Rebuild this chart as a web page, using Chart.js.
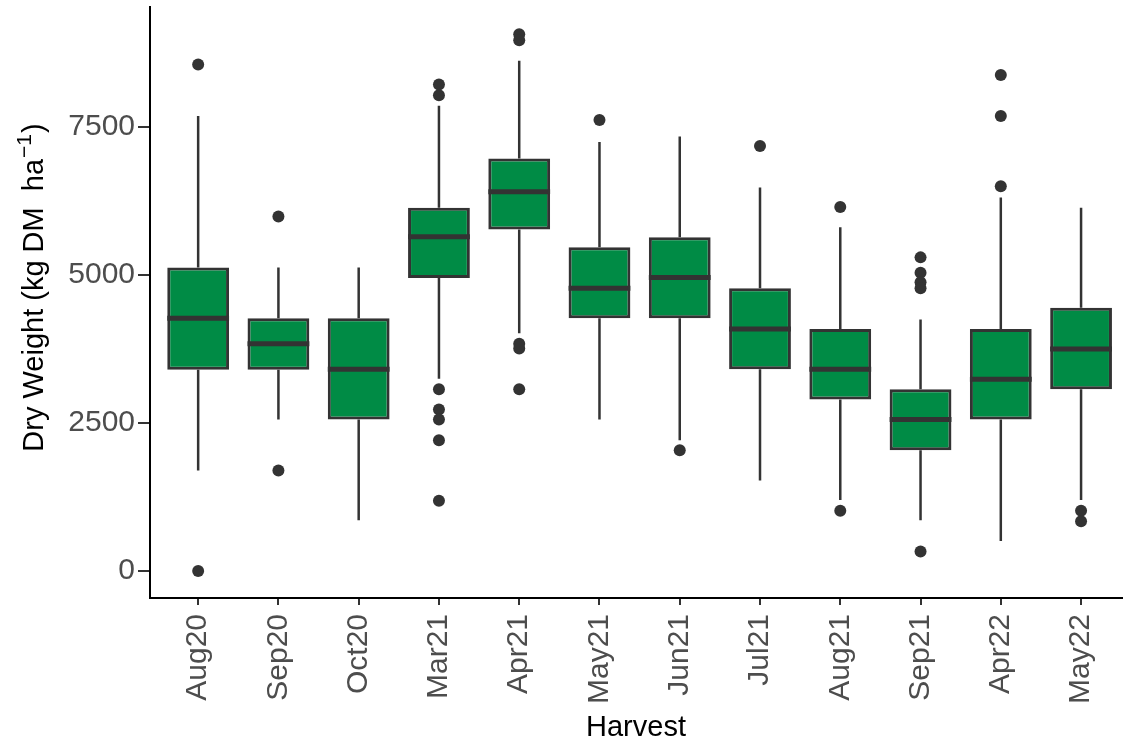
<!DOCTYPE html>
<html>
<head>
<meta charset="utf-8">
<script src="https://cdn.jsdelivr.net/npm/chart.js@4.4.1/dist/chart.umd.min.js"></script>
<style>
  html, body { margin: 0; padding: 0; background: #fff; }
  #wrap { width: 1128px; height: 748px; }
</style>
</head>
<body>
<div id="wrap"><canvas id="chart"></canvas></div>
<script>
// Dry weight per harvest
const harvests = ['Aug20', 'Sep20', 'Oct20', 'Mar21', 'Apr21', 'May21', 'Jun21', 'Jul21', 'Aug21', 'Sep21', 'Apr22', 'May22'];
const whiskerLow  = [1700, 2560,  860, 3250, 4020, 2560, 2210, 1530, 1200,  860,  510, 1200];
const q1          = [3400, 3400, 2560, 4950, 5770, 4270, 4270, 3410, 2900, 2040, 2560, 3070];
const medians     = [4270, 3840, 3410, 5650, 6410, 4780, 4960, 4090, 3410, 2560, 3240, 3750];
const q3          = [5130, 4270, 4270, 6140, 6970, 5470, 5640, 4780, 4090, 3070, 4090, 4450];
const whiskerHigh = [7690, 5130, 5130, 7860, 8620, 7250, 7340, 6480, 5810, 4250, 6310, 6140];
const outliers = [
  [8560, 0],
  [5990, 1700],
  [],
  [8220, 8040, 3070, 2730, 2560, 2210, 1190],
  [9070, 8970, 3840, 3760, 3070],
  [7620],
  [2040],
  [7180],
  [6150, 1020],
  [5300, 5040, 4880, 4780, 330],
  [8380, 7690, 6500],
  [1020, 840]
];
const yTicks = [0, 2500, 5000, 7500];

const boxFill = '#008B45';
const ink = '#333333';
const fontFamily = '"Liberation Sans", Arial, sans-serif';

const boxData = harvests.map((h, i) => ({ x: i + 1, y: [q1[i], q3[i]] }));
const outlierData = [];
outliers.forEach((vals, i) => {
  vals.forEach(v => outlierData.push({ x: i + 1, y: v }));
});

// whiskers behind the boxes, medians on top of them
const boxExtras = {
  id: 'boxExtras',
  beforeDatasetsDraw(chart) {
    const xs = chart.scales.x, ys = chart.scales.y, ctx = chart.ctx;
    ctx.save();
    ctx.strokeStyle = ink;
    ctx.lineWidth = 2.5;
    harvests.forEach((h, i) => {
      const x = xs.getPixelForValue(i + 1);
      ctx.beginPath();
      ctx.moveTo(x, ys.getPixelForValue(whiskerHigh[i]));
      ctx.lineTo(x, ys.getPixelForValue(q3[i]));
      ctx.moveTo(x, ys.getPixelForValue(q1[i]));
      ctx.lineTo(x, ys.getPixelForValue(whiskerLow[i]));
      ctx.stroke();
    });
    ctx.restore();
  },
  afterDatasetDraw(chart, args) {
    if (args.index !== 0) return;
    const ys = chart.scales.y, ctx = chart.ctx;
    const bars = chart.getDatasetMeta(0).data;
    ctx.save();
    ctx.strokeStyle = ink;
    ctx.lineWidth = 5;
    bars.forEach((bar, i) => {
      const { x, width } = bar.getProps(['x', 'width'], true);
      const y = ys.getPixelForValue(medians[i]);
      ctx.beginPath();
      ctx.moveTo(x - width / 2, y);
      ctx.lineTo(x + width / 2, y);
      ctx.stroke();
    });
    ctx.restore();
  }
};

// y title with a real superscript, like the plotmath label
const yTitle = {
  id: 'yTitle',
  afterDraw(chart) {
    const ctx = chart.ctx, area = chart.chartArea;
    const main = 'Dry Weight (kg DM  ha', sup = '\u22121', close = ')';
    const big = '29px ' + fontFamily, small = '21px ' + fontFamily;
    ctx.save();
    ctx.font = big;
    const w1 = ctx.measureText(main).width, w3 = ctx.measureText(close).width;
    ctx.font = small;
    const w2 = ctx.measureText(sup).width + 2;
    const total = w1 + w2 + w3;
    ctx.translate(area.left - 107, (area.top + area.bottom) / 2 - 15);
    ctx.rotate(-Math.PI / 2);
    ctx.fillStyle = '#000';
    ctx.textBaseline = 'alphabetic';
    ctx.textAlign = 'left';
    let x = -total / 2;
    ctx.font = big;
    ctx.fillText(main, x, 0);
    x += w1;
    ctx.font = small;
    ctx.fillText(sup, x + 1, -12);
    x += w2;
    ctx.font = big;
    ctx.fillText(close, x, 0);
    ctx.restore();
  }
};

new Chart(document.getElementById('chart'), {
  type: 'bar',
  data: {
    datasets: [{
      type: 'bar',
      data: boxData,
      backgroundColor: boxFill,
      borderColor: ink,
      borderWidth: 3,
      borderSkipped: false,
      barPercentage: 1,
      categoryPercentage: 0.77,
      order: 2
    }, {
      type: 'scatter',
      data: outlierData,
      pointRadius: 6,
      pointHoverRadius: 6,
      pointBackgroundColor: ink,
      pointBorderWidth: 0,
      order: 1
    }]
  },
  options: {
    responsive: true,
    maintainAspectRatio: false,
    animation: false,
    layout: { padding: { top: 7, right: 0, bottom: 0, left: 0 } },
    plugins: { legend: { display: false }, tooltip: { enabled: false } },
    scales: {
      x: {
        type: 'linear',
        offset: false,
        min: 0.4,
        max: 12.51,
        afterBuildTicks: s => { s.ticks = harvests.map((h, i) => ({ value: i + 1 })); },
        afterFit: s => { s.height = 150; s.paddingLeft = 0; s.paddingRight = 0; },
        ticks: {
          autoSkip: false,
          minRotation: 90,
          maxRotation: 90,
          padding: 9,
          color: '#4D4D4D',
          font: { family: fontFamily, size: 30 },
          callback: v => harvests[Math.round(v) - 1] || ''
        },
        grid: { offset: false, drawOnChartArea: false, drawTicks: true, tickLength: 7, color: ink, lineWidth: 2 },
        border: { display: true, color: '#000', width: 2 },
        title: {
          display: true,
          text: 'Harvest',
          color: '#000',
          font: { family: fontFamily, size: 29 },
          padding: { top: 0, bottom: 3 }
        }
      },
      y: {
        min: -455,
        max: 9530,
        afterBuildTicks: s => { s.ticks = yTicks.map(v => ({ value: v })); },
        afterFit: s => { s.width = 150; s.paddingTop = 0; s.paddingBottom = 0; },
        ticks: {
          padding: 3,
          color: '#4D4D4D',
          font: { family: fontFamily, size: 30 },
          callback: v => String(v)
        },
        grid: { drawOnChartArea: false, drawTicks: true, tickLength: 12, color: ink, lineWidth: 2 },
        border: { display: true, color: '#000', width: 2 },
        title: { display: false }
      }
    }
  },
  plugins: [boxExtras, yTitle]
});
</script>
</body>
</html>
